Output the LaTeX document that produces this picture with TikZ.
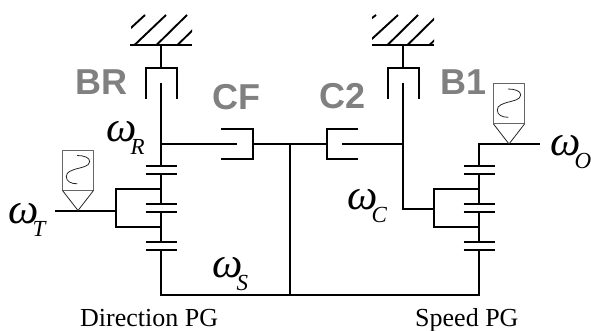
\documentclass[tikz,border=0pt]{standalone}
\usepackage{fontspec}
\setmainfont{Liberation Serif}
\newfontfamily\labfont{Liberation Sans}
\newcommand{\omsub}[1]{{\fontsize{43}{43}\selectfont\itshape ω}\kern-6pt\raisebox{-13pt}{\fontsize{23}{23}\selectfont\itshape #1}}
\tikzset{
  shaft/.style={line width=2pt,black,line cap=butt,line join=miter},
  hatchline/.style={line width=1.9pt,black},
  sensorbox/.style={line width=1pt,black!60},
  sensorthin/.style={line width=0.8pt,black!85},
  brake/.style={font=\labfont\bfseries\fontsize{36}{36}\selectfont,text=black!50,inner sep=0pt,anchor=base west},
  omega/.style={inner sep=0pt,anchor=base west},
  caption/.style={font=\fontsize{26}{26}\selectfont,inner sep=0pt,anchor=base west},
  pics/sensor/.style={code={
    \draw[sensorbox] (-15.5,-60) rectangle (15.5,-20);
    \draw[sensorthin] (-15.5,-20) -- (0,0) -- (15.5,-20);
    \draw[sensorthin] (-0.7,-26.7) .. controls (-7,-26.7) and (-11.7,-29) .. (-11.7,-34)
      .. controls (-11.7,-39) and (-6,-40) .. (-2.3,-41.5)
      .. controls (3,-43) and (11.7,-44) .. (11.7,-49)
      .. controls (11.7,-53) and (6,-55) .. (-1,-55);
  }},
  pics/gearset/.style={code={
    \draw[shaft] (-15.5,0) -- (15.5,0) (-15.5,8) -- (15.5,8);
    \draw[shaft] (-15.5,38) -- (15.5,38) (-15.5,46) -- (15.5,46);
    \draw[shaft] (-15.5,76) -- (15.5,76) (-15.5,83.5) -- (15.5,83.5);
    \draw[shaft] (0,8) -- (0,38) (0,46) -- (0,76);
    \draw[shaft] (-46,23) -- (0,23) (-46,61) -- (0,61);
    \draw[shaft] (-45.5,22) -- (-45.5,62);
  }},
}
\begin{document}
\begin{tikzpicture}[x=1pt,y=-1pt]
\useasboundingbox (0,0) rectangle (591,331);
% grounds
\begin{scope}
\clip (131,15) rectangle (192,46);
\draw[hatchline] (134,45.5) -- (166,15) (156,45.5) -- (187,15) (177,45.5) -- (208,15) (120,38) -- (145,15);
\end{scope}
\begin{scope}
\clip (372,15) rectangle (434,46);
\draw[hatchline] (350,59) -- (398,15) (387,45.5) -- (418,15) (407,45.5) -- (438,15) (429,45.5) -- (445,30) (360,27) -- (376,15);
\end{scope}
\draw[shaft] (130,45.5) -- (192,45.5) (372,45.5) -- (434,45.5);
% BR and B1 brakes
\draw[shaft] (161,45.5) -- (161,68) (146,99) -- (146,68) -- (176.5,68) -- (176.5,99);
\draw[shaft] (403,45.5) -- (403,68) (388,99) -- (388,68) -- (418.5,68) -- (418.5,99);
% shafts
\coordinate (R) at (161,144);
\coordinate (C) at (403,144);
\draw[shaft] (161,83) -- (161,166);
\draw[shaft] (R) -- (237,144);
\draw[shaft] (221,129) -- (252.5,129) -- (252.5,159) -- (221,159);
\draw[shaft] (252.5,144) -- (327,144);
\draw[shaft] (358,129) -- (327,129) -- (327,159) -- (358,159);
\draw[shaft] (342,144) -- (C);
\draw[shaft] (403,83) -- (403,209) -- (433,209);
\draw[shaft] (290,144) -- (290,295);
% gear sets
\pic at (161,166) {gearset};
\pic at (479,166) {gearset};
\draw[shaft] (161,249.5) -- (161,295) -- (479,295) -- (479,249.5);
\draw[shaft] (55,210.5) -- (115.5,210.5);
\draw[shaft] (479,166) -- (479,144) -- (540,144);
% sensors
\pic at (78,210.5) {sensor};
\pic at (509,144) {sensor};
% labels
\node[brake] (br) at (75,95) {BR};
\node[brake] (cf) at (212,110) {CF};
\node[brake] (c2) at (319,109) {C2};
\node[brake] (b1) at (440,94.5) {B1};
\node[omega] (wr) at (106,141.5) {\omsub{R}};
\node[omega] (wt) at (8,223) {\omsub{T}};
\node[omega] (ws) at (212,277) {\omsub{S}};
\node[omega] (wc) at (347,209) {\omsub{C}};
\node[omega] (wo) at (550,156) {\omsub{O}};
\node[caption] (dpg) at (80,326) {Direction PG};
\node[caption] (spg) at (415,326) {Speed PG};
\end{tikzpicture}
\end{document}
